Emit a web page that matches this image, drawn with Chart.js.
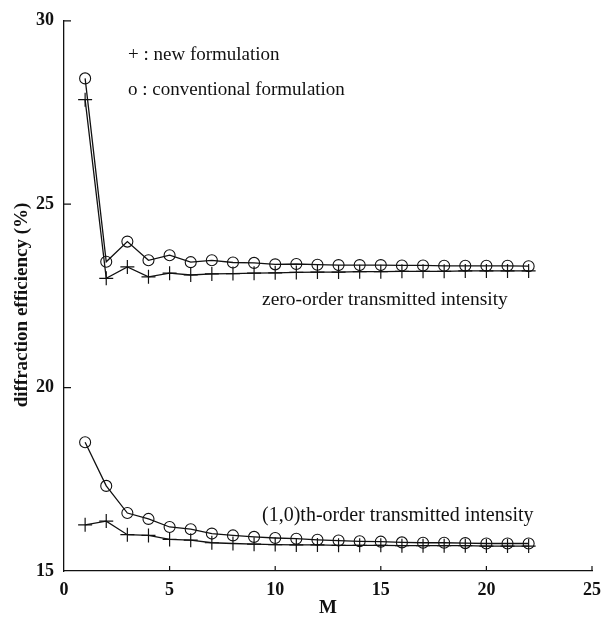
<!DOCTYPE html>
<html>
<head>
<meta charset="utf-8">
<script src="https://cdn.jsdelivr.net/npm/chart.js@4.4.1/dist/chart.umd.min.js"></script>
<style>
  html, body { margin: 0; padding: 0; background: #fff; }
  #wrap { width: 611px; height: 619px; }
</style>
</head>
<body>
<div id="wrap"><canvas id="effChart" width="611" height="619"></canvas></div>
<script>
// M = number of retained orders
const mValues = [1, 2, 3, 4, 5, 6, 7, 8, 9, 10, 11, 12, 13, 14, 15, 16, 17, 18, 19, 20, 21, 22];

// zero-order transmitted intensity (%)
const zeroConventional = [28.43, 23.43, 23.98, 23.47, 23.61, 23.42, 23.47, 23.41, 23.40, 23.36, 23.37,
                          23.35, 23.34, 23.34, 23.34, 23.33, 23.33, 23.32, 23.32, 23.32, 23.32, 23.31];
const zeroNew = [27.85, 22.98, 23.29, 23.02, 23.12, 23.07, 23.10, 23.11, 23.12, 23.13, 23.14,
                 23.15, 23.15, 23.16, 23.16, 23.17, 23.17, 23.17, 23.18, 23.18, 23.18, 23.18];

// (1,0)th-order transmitted intensity (%)
const firstConventional = [18.51, 17.32, 16.58, 16.42, 16.20, 16.14, 16.02, 15.97, 15.93, 15.90, 15.88,
                           15.85, 15.83, 15.81, 15.80, 15.78, 15.77, 15.77, 15.76, 15.75, 15.75, 15.75];
const firstNew = [16.26, 16.36, 15.99, 15.97, 15.86, 15.84, 15.77, 15.75, 15.73, 15.72, 15.71,
                  15.71, 15.70, 15.70, 15.70, 15.69, 15.69, 15.69, 15.69, 15.68, 15.68, 15.68];

const xTicks = [0, 5, 10, 15, 20, 25];
const yTicks = [15, 20, 25, 30];

const legendLines = ['+ : new formulation', 'o : conventional formulation'];
const curveLabels = ['zero-order transmitted intensity', '(1,0)th-order transmitted intensity'];
const yTitle = 'diffraction efficiency (%)';

const SERIF = '"Liberation Serif", "DejaVu Serif", serif';
const INK = '#111';

function pts(ys) {
  return mValues.map((m, i) => ({ x: m, y: ys[i] }));
}

function circleSet(label, ys) {
  return {
    label, data: pts(ys),
    borderColor: INK, borderWidth: 1.3,
    pointStyle: 'circle', pointRadius: 5.5,
    pointBorderColor: INK, pointBorderWidth: 1.1,
    pointBackgroundColor: 'rgba(0,0,0,0)',
    tension: 0, fill: false
  };
}

function crossSet(label, ys) {
  return {
    label, data: pts(ys),
    borderColor: INK, borderWidth: 1.3,
    pointStyle: 'cross', pointRadius: 7,
    pointBorderColor: INK, pointBorderWidth: 1.2,
    tension: 0, fill: false
  };
}

// inward tick marks, y title and free text labels
const decor = {
  id: 'decor',
  afterDraw(chart) {
    const { ctx, chartArea: a, scales: { x, y } } = chart;
    ctx.save();
    ctx.strokeStyle = INK;
    ctx.lineWidth = 1.2;
    ctx.beginPath();
    xTicks.forEach(v => {
      if (v === 0) return;
      const px = x.getPixelForValue(v);
      ctx.moveTo(px, a.bottom);
      ctx.lineTo(px, a.bottom - 5);
    });
    yTicks.forEach(v => {
      if (v === 15) return;
      const py = y.getPixelForValue(v);
      ctx.moveTo(a.left, py);
      ctx.lineTo(a.left + 7, py);
    });
    ctx.stroke();

    ctx.fillStyle = INK;
    ctx.textBaseline = 'middle';
    ctx.textAlign = 'left';
    ctx.font = '19px ' + SERIF;
    ctx.fillText(legendLines[0], 128, 55);
    ctx.fillText(legendLines[1], 128, 90);
    ctx.font = '19.5px ' + SERIF;
    ctx.fillText(curveLabels[0], 262, 300);
    ctx.font = '20px ' + SERIF;
    ctx.fillText(curveLabels[1], 262, 516);

    ctx.translate(22, 305);
    ctx.rotate(-Math.PI / 2);
    ctx.textAlign = 'center';
    ctx.font = 'bold 19px ' + SERIF;
    ctx.fillText(yTitle, 0, 0);
    ctx.restore();
  }
};

new Chart(document.getElementById('effChart').getContext('2d'), {
  type: 'line',
  data: {
    datasets: [
      circleSet('zero-order conventional', zeroConventional),
      crossSet('zero-order new', zeroNew),
      circleSet('(1,0) conventional', firstConventional),
      crossSet('(1,0) new', firstNew)
    ]
  },
  options: {
    responsive: false,
    animation: false,
    devicePixelRatio: 1,
    layout: { padding: { top: 16, right: 19, left: 0, bottom: 0 } },
    plugins: { legend: { display: false }, tooltip: { enabled: false } },
    scales: {
      x: {
        type: 'linear', min: 0, max: 25,
        afterBuildTicks: s => { s.ticks = xTicks.map(v => ({ value: v })); },
        afterFit: s => { s.height = 48; },
        grid: { drawOnChartArea: false, drawTicks: false },
        border: { display: true, color: INK, width: 1.3 },
        ticks: { padding: 9, color: INK, font: { family: SERIF, size: 18, weight: 'bold' } },
        title: {
          display: true, text: 'M', color: INK, padding: { top: 2, bottom: 0 },
          font: { family: SERIF, size: 19, weight: 'bold' }
        }
      },
      y: {
        type: 'linear', min: 15, max: 30,
        afterBuildTicks: s => { s.ticks = yTicks.map(v => ({ value: v })); },
        afterFit: s => { s.width = 64; },
        grid: { drawOnChartArea: false, drawTicks: false },
        border: { display: true, color: INK, width: 1.3 },
        ticks: { padding: 10, color: INK, font: { family: SERIF, size: 18, weight: 'bold' } }
      }
    }
  },
  plugins: [decor]
});
</script>
</body>
</html>
